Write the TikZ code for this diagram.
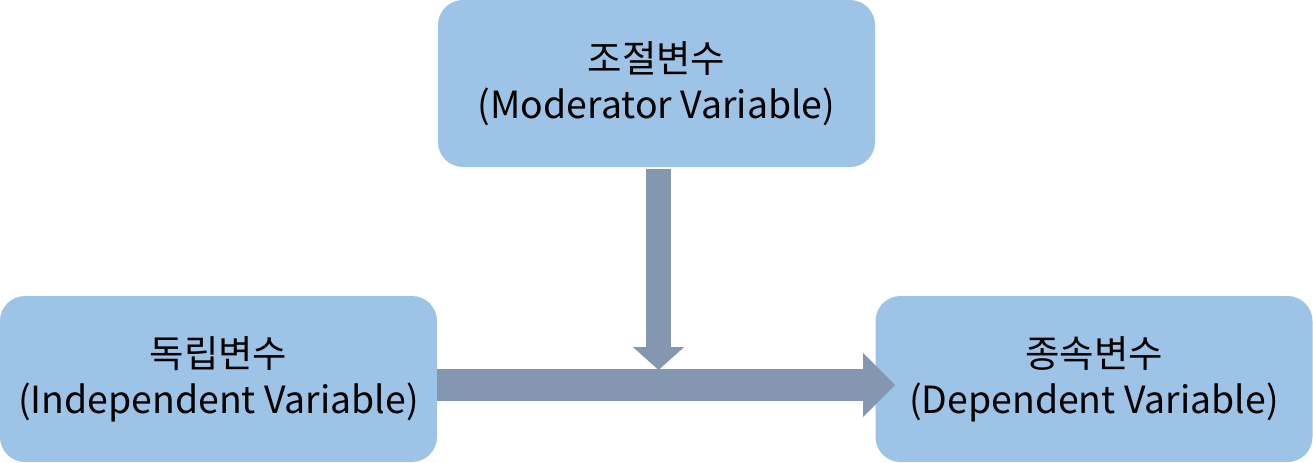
\documentclass[tikz,border=0pt]{standalone}
\usepackage{fontspec}
\setmainfont{Noto Sans CJK KR}
\usetikzlibrary{arrows.meta}
\definecolor{boxblue}{HTML}{9DC3E6}
\definecolor{arrowgray}{HTML}{8497B0}
\begin{document}
\begin{tikzpicture}[x=0.5pt, y=-0.5pt,
    varbox/.style={fill=boxblue, rounded corners=12.5pt, minimum width=218.5pt,
      minimum height=83pt, inner sep=0pt, align=center,
      font=\fontsize{18.7}{23}\selectfont},
    bigarrow/.style={draw=arrowgray, line width=12.5pt},
  ]
  \useasboundingbox (0,0) rectangle (1313,462);

  % --- Variables ---
  \node[varbox, minimum height=83.5pt] (mod) at (656.5,83.5) {조절변수\\(Moderator Variable)};
  \node[varbox] (ind) at (218.5,379) {독립변수\\(Independent Variable)};
  \node[varbox] (dep) at (1094,379) {종속변수\\(Dependent Variable)};

  % --- Arrows ---
  \coordinate (meet) at (658.5,370);
  \draw[bigarrow, line width=16pt, -{Triangle[width=31pt, length=16pt]}]
    ([yshift=-3pt]ind.east) -- ([xshift=10pt, yshift=-3pt]dep.west);
  \draw[bigarrow, -{Triangle[width=25pt, length=11.5pt]}]
    ([xshift=1pt, yshift=-1pt]mod.south) -- (meet);
\end{tikzpicture}
\end{document}
